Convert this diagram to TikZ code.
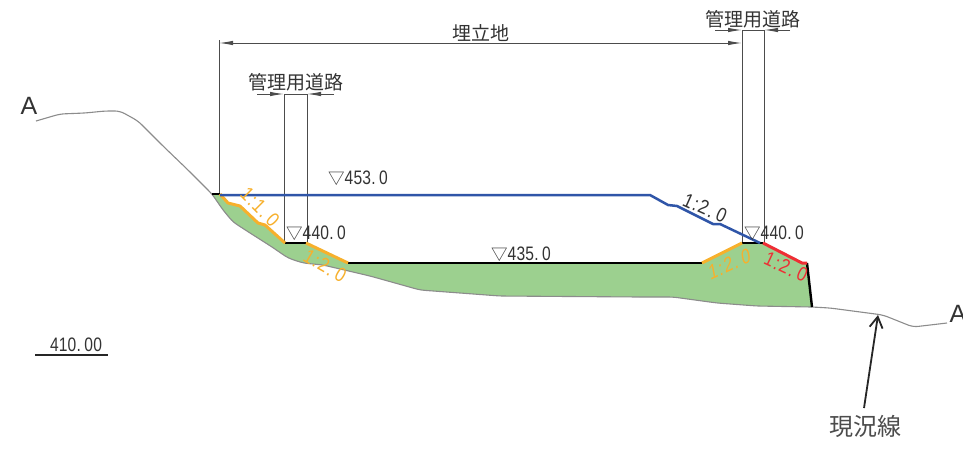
\documentclass[tikz,border=0pt]{standalone}
\usepackage{fontspec}
\usetikzlibrary{arrows.meta}
\newfontfamily\cjk{Noto Sans CJK JP}
\newfontfamily\numfont[FakeStretch=0.8,LetterSpace=1]{Liberation Sans}
\newfontfamily\ratfont[FakeStretch=0.85,LetterSpace=6]{Liberation Sans}
\newfontfamily\ratslant[FakeStretch=0.85,LetterSpace=6,FakeSlant=0.25]{Liberation Sans}
\setmainfont{Liberation Sans}
\newcommand{\tri}{{\cjk\fontsize{16.5}{16.5}\selectfont ▽}}
\newcommand{\gapdot}{.\kern3.5pt }
\newcommand{\ratdot}{.\kern4pt }
\definecolor{fillgreen}{HTML}{9CD08F}
\definecolor{slopeblue}{HTML}{2F55A8}
\definecolor{slopeorange}{HTML}{F7B02C}
\definecolor{slopered}{HTML}{EE2E34}
\definecolor{groundgray}{HTML}{8C8C8C}
\tikzset{
  x=1pt,y=-1pt,
  ground/.style={groundgray,line width=1.1pt,line join=round,rounded corners=5pt},
  dimline/.style={black!70,line width=1pt},
  dimarrow/.style={dimline,-{Latex[length=14pt,width=4.5pt]}},
  bench/.style={black,line width=2.4pt},
  orangeslope/.style={slopeorange,line width=3pt,line join=round},
  redslope/.style={slopered,line width=3pt,line join=round},
  blueslope/.style={slopeblue,line width=2.5pt,line join=round},
  jptext/.style={font=\cjk\fontsize{19}{19}\selectfont,inner sep=0pt,text=black!80},
  elev/.style={font=\numfont\fontsize{19.5}{19.5}\selectfont,inner sep=0pt,text=black!80},
  ratio/.style={font=\ratfont\fontsize{20}{20}\selectfont,inner sep=0pt},
  sectionmark/.style={font=\fontsize{25}{25}\selectfont,inner sep=0pt,text=black!80},
}
\begin{document}
\begin{tikzpicture}
\useasboundingbox[fill=white] (0,0) rectangle (963,448);
% fill
\fill[fillgreen] (212,194) -- (220,194) -- (228,203) -- (240,206) -- (258,223) -- (265,225) -- (285,243) -- (306,243) -- (348,263) -- (702,263) -- (742,243) -- (763,243) -- (802,263) -- (807,263) -- (812,307)
 -- (757,306) -- (717,303) -- (673,297) -- (640,297) -- (500,296) -- (420,290) -- (370,276) -- (323,265) -- (303,263) -- (288,258) -- (272,247) -- (250,233) -- (233,222) -- (223,210) -- cycle;
% ground
\draw[ground] (36,121) -- (60,114) -- (85,113) -- (105,111) -- (120,111) -- (138,121) -- (163,146) -- (188,170) -- (200,182) -- (212,194) -- (223,210) -- (233,222) -- (250,233) -- (272,247) -- (288,258) -- (303,263) -- (323,265) -- (370,276) -- (420,290) -- (500,296) -- (640,297) -- (673,297) -- (717,303) -- (757,306) -- (812,307) -- (830,308) -- (883,315) -- (913,327) -- (947,323);
% dimension coordinates
\coordinate (LT) at (219,40); \coordinate (LB) at (219,195);
\coordinate (RAt) at (742,30); \coordinate (RAb) at (742,243);
\coordinate (RBt) at (764,30); \coordinate (RBb) at (764,243);
\coordinate (MAt) at (284,94); \coordinate (MAb) at (284,243);
\coordinate (MBt) at (307,94); \coordinate (MBb) at (307,243);
\draw[dimline] (LT) -- (LB);
\draw[dimline] (RAt) -- (RAb);
\draw[dimline] (RBt) -- (RBb);
\draw[dimline] (MAt) -- (MAb);
\draw[dimline] (MBt) -- (MBb);
\coordinate (H1) at (219,43); \coordinate (H2) at (742,43);
\draw[dimarrow] (481,43) -- (H1);
\draw[dimarrow] (481,43) -- (H2);
\coordinate (a1) at (715,30); \coordinate (a2) at (790,30);
\draw[dimarrow] (a1) -- (RAt);
\draw[dimarrow] (a2) -- (RBt);
\draw[dimline] (RAt) -- (RBt);
\coordinate (b1) at (257,94); \coordinate (b2) at (334,94);
\draw[dimarrow] (b1) -- (MAt);
\draw[dimarrow] (b2) -- (MBt);
\draw[dimline] (MAt) -- (MBt);
% slopes
\draw[bench] (212,194) -- (220,194);
\draw[bench] (285,243) -- (306,243);
\draw[bench] (348,263) -- (702,263);
\draw[bench] (742,243) -- (763,243);
\draw[bench] (807,263) -- (812,307);
\draw[orangeslope] (220,194) -- (228,203) -- (240,206) -- (258,223) -- (265,225) -- (285,243);
\draw[orangeslope] (306,243) -- (348,263);
\draw[orangeslope] (702,263) -- (742,243);
\draw[redslope] (763,243) -- (802,263) -- (807,263);
\draw[blueslope] (220,195) -- (650,195) -- (668,205) -- (677,206) -- (713,224) -- (720,224) -- (760,243);
% labels
\node[jptext] (road1) at (296,82) {管理用道路};
\node[jptext] (road2) at (753,19) {管理用道路};
\node[jptext] (fill) at (481,33) {埋立地};
\node[elev,anchor=west] (e453) at (328,178) {\tri 453\gapdot 0};
\node[elev,anchor=west] (e440a) at (286,233) {\tri 440\gapdot 0};
\node[elev,anchor=west] (e435) at (491,254) {\tri 435\gapdot 0};
\node[elev,anchor=west] (e440b) at (744,233) {\tri 440\gapdot 0};
\node[ratio,text=slopeorange,rotate=-45] (r1) at (260,207) {1:1\ratdot 0};
\node[ratio,text=slopeorange,rotate=-30] (r2) at (325,266) {1:2\ratdot 0};
\node[ratio,text=black!80,rotate=-24] (r3) at (705,208) {1:2\ratdot 0};
\node[ratio,font=\ratslant\fontsize{20}{20}\selectfont,text=slopeorange,rotate=25] (r4) at (728,265) {1:2\ratdot 0};
\node[ratio,text=slopered,rotate=-25] (r5) at (786,267) {1:2\ratdot 0};
\node[sectionmark] (A1) at (29,106) {A};
\node[sectionmark] (A2) at (958,314) {A};
\node[elev] (scale) at (76,345) {410\gapdot 00};
\coordinate (s1) at (35,355); \coordinate (s2) at (108,355);
\draw[black!85,line width=1.6pt] (s1) -- (s2);
\node[jptext,font=\cjk\fontsize{24}{24}\selectfont,text=black!70] (genkyo) at (865,426) {現況線};
\coordinate (g1) at (878,315);
\draw[black!85,line width=1.8pt,-{Straight Barb[length=11pt,width=13pt,line width=1.8pt]}] (864,408) -- (g1);
\end{tikzpicture}
\end{document}
